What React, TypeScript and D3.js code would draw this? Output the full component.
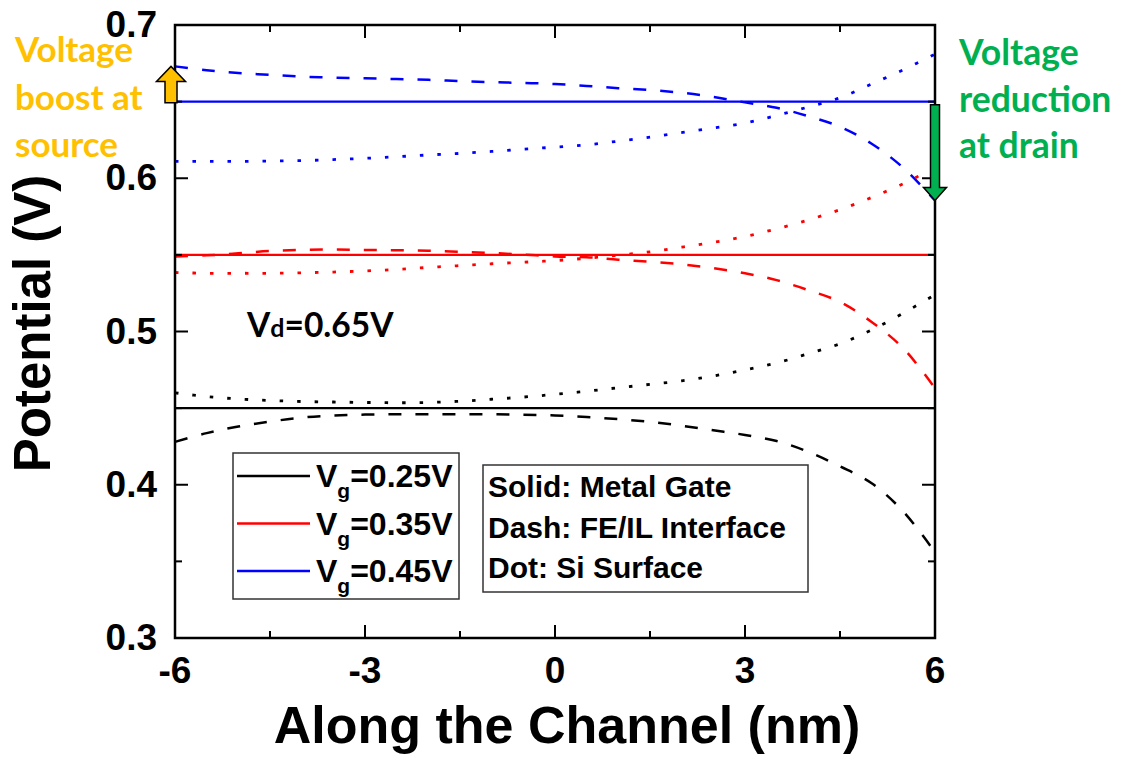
import React from "react";
import * as d3 from "d3";

// ---- data ----
const xs = [-6, -5.5, -5, -4.5, -4, -3.5, -3, -2.5, -2, -1.5, -1, -0.5, 0, 0.5, 1, 1.5, 2, 2.5, 3, 3.5, 4, 4.5, 5, 5.5, 6];
const vgLabels = ["0.25", "0.35", "0.45"];
const gateV = [0.45, 0.55, 0.65];
const feIL_025 = [0.428, 0.4337, 0.438, 0.4412, 0.4438, 0.4452, 0.4458, 0.446, 0.446, 0.446, 0.446, 0.4457, 0.4452, 0.4442, 0.4428, 0.441, 0.4385, 0.4355, 0.4325, 0.4285, 0.4215, 0.412, 0.401, 0.3825, 0.356];
const feIL_035 = [0.549, 0.5497, 0.551, 0.5525, 0.5532, 0.5535, 0.5532, 0.553, 0.5527, 0.552, 0.5512, 0.5502, 0.549, 0.5485, 0.5468, 0.5455, 0.5438, 0.5413, 0.538, 0.5335, 0.527, 0.5193, 0.5062, 0.489, 0.463];
const feIL_045 = [0.673, 0.6705, 0.6687, 0.6675, 0.6663, 0.6657, 0.6652, 0.6647, 0.6642, 0.6634, 0.6627, 0.6622, 0.6615, 0.6602, 0.6588, 0.6575, 0.6558, 0.653, 0.6495, 0.646, 0.6405, 0.6336, 0.6225, 0.6068, 0.5855];
const si_025 = [0.46, 0.4575, 0.456, 0.455, 0.4543, 0.454, 0.4537, 0.4535, 0.4537, 0.4545, 0.4558, 0.4572, 0.459, 0.461, 0.4633, 0.4655, 0.4678, 0.471, 0.475, 0.4795, 0.4855, 0.492, 0.501, 0.512, 0.524];
const si_035 = [0.5385, 0.538, 0.538, 0.538, 0.5383, 0.5388, 0.5395, 0.5405, 0.5418, 0.543, 0.5442, 0.5452, 0.5463, 0.5478, 0.5498, 0.552, 0.555, 0.5582, 0.562, 0.567, 0.5728, 0.5795, 0.5875, 0.5965, 0.607];
const si_045 = [0.611, 0.611, 0.611, 0.6112, 0.6115, 0.6122, 0.613, 0.614, 0.6152, 0.6162, 0.6175, 0.619, 0.6203, 0.6218, 0.6242, 0.6268, 0.6298, 0.6328, 0.636, 0.641, 0.6465, 0.6525, 0.6615, 0.6708, 0.681];
const xTickLabels = [-6, -3, 0, 3, 6];
const xMinorTicks = [-4.5, -1.5, 1.5, 4.5];
const yTickLabels = [0.3, 0.4, 0.5, 0.6, 0.7];
const yMinorTicks = [0.35, 0.45, 0.55, 0.65];
const colors = ["#000000", "#ff0000", "#0000ff"];
const styleNotes = ["Solid: Metal Gate", "Dash: FE/IL Interface", "Dot: Si Surface"];
const sourceNote = ["Voltage", "boost at", "source"];
const drainNote = ["Voltage", "reduction", "at drain"];

const W = 1122, H = 763;
const L = 175, R = 935, T = 25, B = 638;

export default function App() {
  const x = d3.scaleLinear().domain([-6, 6]).range([L, R]);
  const y = d3.scaleLinear().domain([0.3, 0.7]).range([B, T]);
  const line = d3.line<number>().x((_, i) => x(xs[i])).y((d) => y(d)).curve(d3.curveCatmullRom);

  const feIL = [feIL_025, feIL_035, feIL_045];
  const si = [si_025, si_035, si_045];
  const AX = "'Liberation Sans', Arial, sans-serif";
  const CAL = "Lato, 'Open Sans', sans-serif";

  const arrow = (cx: number, y0: number, y1: number, sw: number, hw: number, hl: number) => {
    const dir = y1 < y0 ? -1 : 1;
    const yb = y1 - dir * hl;
    return [
      [cx - sw / 2, y0], [cx - sw / 2, yb], [cx - hw / 2, yb], [cx, y1],
      [cx + hw / 2, yb], [cx + sw / 2, yb], [cx + sw / 2, y0],
    ].map((p) => p.join(",")).join(" ");
  };

  return (
    <svg width={W} height={H} style={{ position: "absolute", left: 0, top: 0, background: "#fff" }}>
      {/* data lines */}
      {gateV.map((g, k) => (
        <line key={"g" + k} x1={x(-6)} x2={x(6)} y1={y(g)} y2={y(g)} stroke={colors[k]} strokeWidth={2.2} />
      ))}
      {feIL.map((s, k) => (
        <path key={"f" + k} d={line(s) || ""} fill="none" stroke={colors[k]} strokeWidth={2.5} strokeDasharray="13 14" />
      ))}
      {si.map((s, k) => (
        <path key={"s" + k} d={line(s) || ""} fill="none" stroke={colors[k]} strokeWidth={2.8} strokeDasharray="3.5 14" />
      ))}

      {/* frame */}
      <rect x={L} y={T} width={R - L} height={B - T} fill="none" stroke="#000" strokeWidth={2.5} />
      {xTickLabels.map((v) => (
        <g key={"xt" + v}>
          <line x1={x(v)} x2={x(v)} y1={B} y2={B - 13} stroke="#000" strokeWidth={2} />
          <line x1={x(v)} x2={x(v)} y1={T} y2={T + 13} stroke="#000" strokeWidth={2} />
          <text x={x(v)} y={683} textAnchor="middle" fontFamily={AX} fontWeight="bold" fontSize={37}>{v}</text>
        </g>
      ))}
      {xMinorTicks.map((v) => (
        <g key={"xm" + v}>
          <line x1={x(v)} x2={x(v)} y1={B} y2={B - 7} stroke="#000" strokeWidth={2} />
          <line x1={x(v)} x2={x(v)} y1={T} y2={T + 7} stroke="#000" strokeWidth={2} />
        </g>
      ))}
      {yTickLabels.map((v) => (
        <g key={"yt" + v}>
          <line x1={L} x2={L + 13} y1={y(v)} y2={y(v)} stroke="#000" strokeWidth={2} />
          <line x1={R} x2={R - 13} y1={y(v)} y2={y(v)} stroke="#000" strokeWidth={2} />
          <text x={157} y={y(v) + 12} textAnchor="end" fontFamily={AX} fontWeight="bold" fontSize={37}>{v.toFixed(1)}</text>
        </g>
      ))}
      {yMinorTicks.map((v) => (
        <g key={"ym" + v}>
          <line x1={L} x2={L + 7} y1={y(v)} y2={y(v)} stroke="#000" strokeWidth={2} />
          <line x1={R} x2={R - 7} y1={y(v)} y2={y(v)} stroke="#000" strokeWidth={2} />
        </g>
      ))}

      {/* axis titles */}
      <text x={567} y={743} textAnchor="middle" fontFamily={AX} fontWeight="bold" fontSize={52}>Along the Channel (nm)</text>
      <text transform="translate(50,323.5) rotate(-90)" textAnchor="middle" fontFamily={AX} fontWeight="bold" fontSize={51}>Potential (V)</text>

      {/* Vd note */}
      <text x={247} y={337} fontFamily={CAL} fontWeight="bold" fontSize={33.5}>
        <tspan>V</tspan><tspan fontSize={25}>d</tspan><tspan>=0.65V</tspan>
      </text>

      {/* legend 1 */}
      <rect x={233} y={453} width={226} height={146} fill="#fff" stroke="#333" strokeWidth={1.5} />
      {vgLabels.map((v, k) => {
        const ly = 476 + k * 47.5;
        return (
          <g key={"lg" + k}>
            <line x1={237} x2={310} y1={ly} y2={ly} stroke={colors[k]} strokeWidth={2.5} />
            <text x={316} y={ly + 11} fontFamily={AX} fontWeight="bold" fontSize={32}>
              <tspan>V</tspan><tspan fontSize={21} dy={11}>g</tspan><tspan dy={-11}>={v}V</tspan>
            </text>
          </g>
        );
      })}

      {/* legend 2 */}
      <rect x={483} y={465} width={325} height={127} fill="#fff" stroke="#333" strokeWidth={1.5} />
      {styleNotes.map((s, k) => (
        <text key={"sn" + k} x={488} y={497 + k * 40.7} fontFamily={AX} fontWeight="bold" fontSize={30}>{s}</text>
      ))}

      {/* arrows */}
      <polygon points={arrow(x(-6) - 4, y(gateV[2]) + 1, y(feIL_045[0]), 12, 29, 15)} fill="#FFC000" stroke="#000" strokeWidth={1.5} />
      <polygon points={arrow(x(6), y(gateV[2]) + 3, y(feIL_045[feIL_045.length - 1]), 9, 23, 13)} fill="#00B050" stroke="#000" strokeWidth={1.5} />

      {/* annotations */}
      {sourceNote.map((s, k) => (
        <text key={"so" + k} x={15} y={62 + k * 47.5} fontFamily={CAL} fontWeight="bold" fontSize={35} fill="#FFC000">{s}</text>
      ))}
      {drainNote.map((s, k) => (
        <text key={"dr" + k} x={959} y={65 + k * 46.5} fontFamily={CAL} fontWeight="bold" fontSize={35.5} fill="#00B050">{s}</text>
      ))}
    </svg>
  );
}
